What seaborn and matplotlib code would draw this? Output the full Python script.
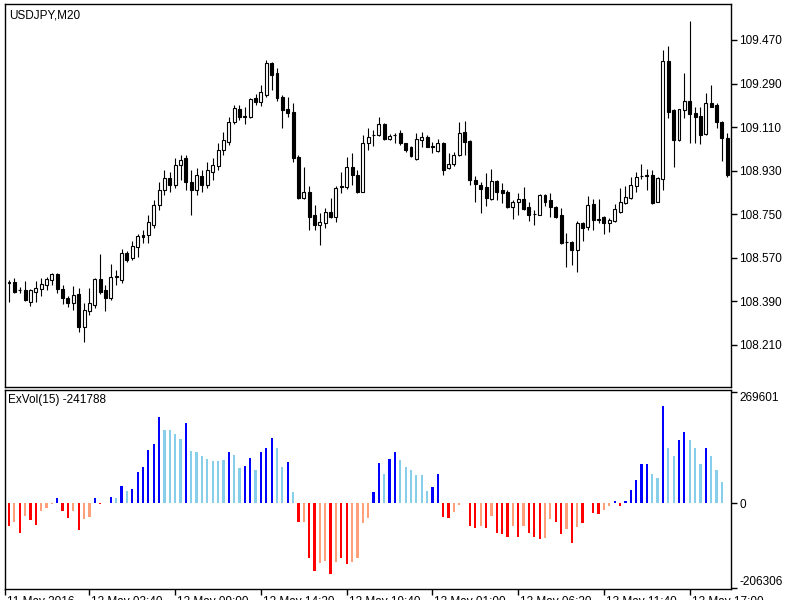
import matplotlib
matplotlib.use("Agg")
import matplotlib.pyplot as plt
import matplotlib.transforms as mtransforms
import numpy as np
import pandas as pd
import seaborn as sns

# chart labels
symbol_label = "USDJPY,M20"
indicator_label = "ExVol(15) -241788"

# USDJPY M20 candles
opens = [108.469, 108.471, 108.438, 108.437, 108.389, 108.430, 108.440, 108.458, 108.478, 108.503,
         108.440, 108.405, 108.385, 108.420, 108.285, 108.351, 108.375, 108.481, 108.437, 108.403,
         108.491, 108.478, 108.591, 108.568, 108.616, 108.665, 108.664, 108.705, 108.788, 108.850,
         108.900, 108.871, 108.953, 108.982, 108.883, 108.850, 108.908, 108.871, 108.924, 108.949,
         109.015, 109.048, 109.132, 109.185, 109.154, 109.150, 109.229, 109.212, 109.243, 109.373,
         109.332, 109.236, 109.185, 109.174, 108.988, 108.816, 108.841, 108.747, 108.705, 108.715,
         108.758, 108.740, 108.865, 108.861, 108.946, 108.912, 108.843, 109.043, 109.076, 109.077,
         109.123, 109.061, 109.078, 109.084, 109.043, 109.026, 108.977, 109.057, 109.068, 109.030,
         109.012, 109.045, 108.940, 108.957, 108.995, 109.091, 109.054, 108.891, 108.871, 108.861,
         108.813, 108.888, 108.850, 108.843, 108.779, 108.802, 108.812, 108.779, 108.752, 108.747,
         108.829, 108.809, 108.779, 108.747, 108.637, 108.636, 108.602, 108.712, 108.696, 108.792,
         108.730, 108.737, 108.715, 108.723, 108.760, 108.798, 108.816, 108.867, 108.907, 108.912,
         108.912, 108.802, 108.894, 109.383, 109.181, 109.057, 109.181, 109.219, 109.167, 109.156,
         109.081, 109.208, 109.201, 109.132, 109.064]
highs = [108.478, 108.485, 108.451, 108.475, 108.440, 108.475, 108.485, 108.492, 108.506, 108.506,
         108.458, 108.412, 108.453, 108.444, 108.382, 108.444, 108.485, 108.586, 108.458, 108.544,
         108.520, 108.605, 108.599, 108.641, 108.668, 108.685, 108.747, 108.809, 108.883, 108.933,
         108.924, 108.982, 108.995, 108.995, 108.933, 108.941, 108.933, 108.966, 108.982, 109.044,
         109.090, 109.152, 109.201, 109.201, 109.194, 109.230, 109.247, 109.284, 109.387, 109.380,
         109.353, 109.243, 109.236, 109.208, 108.995, 108.946, 108.868, 108.788, 108.754, 108.774,
         108.816, 108.868, 108.923, 108.988, 109.002, 108.933, 109.077, 109.105, 109.098, 109.150,
         109.127, 109.081, 109.084, 109.098, 109.045, 109.032, 109.087, 109.091, 109.077, 109.050,
         109.060, 109.048, 109.002, 109.008, 109.132, 109.135, 109.057, 108.908, 108.884, 108.922,
         108.936, 108.891, 108.878, 108.850, 108.809, 108.836, 108.861, 108.802, 108.767, 108.833,
         108.833, 108.836, 108.782, 108.774, 108.671, 108.641, 108.723, 108.719, 108.825, 108.812,
         108.812, 108.743, 108.733, 108.792, 108.857, 108.867, 108.903, 108.926, 108.957, 108.936,
         108.933, 108.905, 109.428, 109.445, 109.185, 109.185, 109.335, 109.550, 109.193, 109.193,
         109.252, 109.284, 109.211, 109.135, 109.084]
lows = [108.389, 108.423, 108.423, 108.393, 108.371, 108.389, 108.412, 108.437, 108.458, 108.423,
        108.379, 108.365, 108.354, 108.265, 108.223, 108.334, 108.361, 108.420, 108.351, 108.396,
        108.458, 108.465, 108.554, 108.561, 108.575, 108.632, 108.630, 108.693, 108.767, 108.829,
        108.842, 108.858, 108.891, 108.850, 108.747, 108.829, 108.842, 108.858, 108.891, 108.933,
        108.995, 109.036, 109.123, 109.139, 109.123, 109.146, 109.201, 109.197, 109.235, 109.263,
        109.219, 109.105, 109.153, 108.967, 108.812, 108.814, 108.685, 108.685, 108.623, 108.692,
        108.733, 108.719, 108.836, 108.853, 108.871, 108.836, 108.840, 109.015, 109.032, 109.073,
        109.057, 109.057, 109.043, 109.036, 109.008, 108.985, 108.974, 109.029, 109.026, 109.004,
        109.008, 108.912, 108.936, 108.949, 108.991, 108.995, 108.871, 108.802, 108.754, 108.784,
        108.809, 108.809, 108.795, 108.774, 108.729, 108.747, 108.767, 108.723, 108.705, 108.745,
        108.784, 108.740, 108.736, 108.627, 108.533, 108.540, 108.513, 108.641, 108.685, 108.685,
        108.715, 108.668, 108.678, 108.719, 108.757, 108.792, 108.812, 108.843, 108.894, 108.850,
        108.792, 108.800, 108.850, 109.148, 108.946, 109.054, 109.148, 109.045, 109.044, 109.040,
        109.079, 109.193, 109.105, 108.971, 108.905]
closes = [108.466, 108.430, 108.436, 108.396, 108.437, 108.444, 108.462, 108.481, 108.503, 108.440,
          108.403, 108.385, 108.416, 108.283, 108.354, 108.382, 108.481, 108.430, 108.403, 108.489,
          108.493, 108.591, 108.561, 108.619, 108.660, 108.655, 108.718, 108.788, 108.850, 108.900,
          108.871, 108.953, 108.974, 108.883, 108.850, 108.912, 108.871, 108.933, 108.953, 109.015,
          109.057, 109.131, 109.188, 109.153, 109.152, 109.226, 109.215, 109.256, 109.373, 109.325,
          109.229, 109.181, 109.169, 108.981, 108.816, 108.841, 108.740, 108.705, 108.719, 108.758,
          108.737, 108.857, 108.863, 108.946, 108.912, 108.843, 109.043, 109.068, 109.078, 109.121,
          109.060, 109.073, 109.076, 109.043, 109.015, 108.991, 109.060, 109.068, 109.029, 109.028,
          109.045, 108.933, 108.957, 108.995, 109.087, 109.050, 108.891, 108.874, 108.853, 108.816,
          108.888, 108.843, 108.839, 108.779, 108.802, 108.812, 108.770, 108.747, 108.750, 108.829,
          108.802, 108.781, 108.740, 108.632, 108.635, 108.602, 108.715, 108.694, 108.788, 108.726,
          108.728, 108.712, 108.726, 108.770, 108.802, 108.820, 108.871, 108.903, 108.909, 108.906,
          108.798, 108.898, 109.383, 109.174, 109.057, 109.183, 109.219, 109.164, 109.153, 109.077,
          109.211, 109.194, 109.132, 109.064, 108.912]

# ExVol histogram and its colour state per bar
exvol = [-56000, -44600, -72200, -30000, -39800, -52800, -19500, -11400, -2400, 13000,
         -19500, -35700, -19500, -65000, -38000, -34000, 13000, -2400, 1000, 16200,
         13000, 42200, 28400, 34900, 75500, 87700, 129900, 142900, 207800, 178600,
         178600, 168800, 155800, 195600, 126600, 123400, 113600, 107100, 101500, 101500,
         103900, 123400, 116900, 84400, 90900, 110400, 81200, 123400, 133100, 159100,
         133100, 87700, 100600, 26000, -46300, -46300, -133900, -164000, -146100, -139600,
         -170500, -143700, -133900, -147700, -143700, -133900, -48700, -36500, 26000, 97400,
         71400, 107100, 123400, 103900, 87700, 81200, 67400, 67400, 29200, 39000,
         71400, -32500, -35700, -21900, -3200, 1600, -56000, -60900, -56000, -60900,
         -30000, -72200, -74700, -81200, -54400, -81200, -54400, -72200, -81200, -87700,
         -84400, -38100, -46300, -74700, -62500, -97400, -58400, -48700, 1600, -22700,
         -26000, -15400, -5700, 6500, -6500, 6500, 32500, 55200, 94200, 94200,
         71400, 61700, 235400, 133100, 113600, 152600, 172100, 152600, 133100, 94200,
         133100, 113600, 81200, 51900, 1000]
exvol_state = (["down", "down_weak", "down", "down_weak", "down", "down", "down_weak", "down_weak", "down_weak", "up",
                "down", "down", "down_weak", "down", "down_weak", "down_weak", "up", "down", "up_weak", "up",
                "up_weak", "up", "up_weak", "up", "up", "up", "up", "up", "up", "up_weak",
                "up_weak", "up_weak", "up_weak", "up", "up_weak", "up_weak", "up_weak", "up_weak", "up_weak", "up_weak",
                "up_weak", "up", "up_weak", "up_weak", "up", "up", "up_weak", "up", "up", "up",
                "up_weak", "up_weak", "up", "up_weak", "down", "down_weak", "down", "down", "down_weak", "down_weak",
                "down", "down_weak", "down", "down", "down_weak", "down_weak", "down_weak", "down_weak", "up", "up",
                "up_weak", "up", "up", "up_weak", "up_weak", "up_weak", "up_weak", "up_weak", "up_weak", "up",
                "up", "down", "down", "down_weak", "down_weak", "up", "down", "down", "down_weak", "down",
                "down_weak", "down", "down", "down", "down_weak", "down", "down_weak", "down", "down", "down",
                "down_weak", "down_weak", "down", "down", "down_weak", "down", "down_weak", "down", "up", "down",
                "down", "down_weak", "down_weak", "up", "down", "up", "up", "up", "up", "up",
                "up_weak", "up_weak", "up", "up_weak", "up_weak", "up", "up", "up_weak", "up_weak", "up_weak",
                "up", "up_weak", "up_weak", "up_weak", "up_weak"])

price_ticks = [108.210, 108.390, 108.570, 108.750, 108.930, 109.110, 109.290, 109.470]
exvol_ticks = [-206306, 0, 269601]
time_tick_bars = [15, 31, 47, 63, 79, 95, 111, 127]
time_tick_labels = ["12 May 03:40", "12 May 09:00", "12 May 14:20", "12 May 19:40",
                    "13 May 01:00", "13 May 06:20", "13 May 11:40", "13 May 17:00"]
first_time_label = "11 May 2016"

palette = {"up": "#0000ff", "up_weak": "#87ceeb", "down": "#ff0000", "down_weak": "#ffa07a"}

sns.set_theme(style="white", rc={"axes.edgecolor": "black", "axes.linewidth": 1.0})
plt.rcParams["font.family"] = ["Liberation Sans", "DejaVu Sans"]

n = len(opens)
bars = np.arange(n)
o = np.array(opens)
c = np.array(closes)

fig = plt.figure(figsize=(8, 6), dpi=100)
ax1 = fig.add_axes([5 / 800, 1 - 387 / 600, 726 / 800, 383 / 600])
ax2 = fig.add_axes([5 / 800, 1 - 589 / 600, 726 / 800, 199 / 600])

# candles
ax1.vlines(bars, lows, highs, color="black", linewidth=0.8, zorder=2)
body_low = np.minimum(o, c)
body_h = np.maximum(np.abs(c - o), 0.0008)
fills = np.where(c >= o, "white", "black")
ax1.bar(bars, body_h, bottom=body_low, width=0.55, color=fills,
        edgecolor="black", linewidth=0.8, zorder=3)

xmin, xmax = -0.746, 134.7
ax1.set_xlim(xmin, xmax)
ax1.set_ylim(108.036, 109.6185)
ax1.set_xticks([])
ax1.yaxis.tick_right()
ax1.set_yticks(price_ticks)
ax1.set_yticklabels([f"{v:.3f}" for v in price_ticks])
ax1.tick_params(axis="y", direction="out", length=4, width=1, pad=2,
                labelsize=8.5, colors="black", right=True, left=False)
ax1.text(4 / 726, 1 - 5 / 383, symbol_label, transform=ax1.transAxes,
         ha="left", va="top", fontsize=8.5, color="black")

# ExVol histogram
df = pd.DataFrame({"bar": bars, "exvol": exvol, "state": exvol_state})
sns.barplot(data=df, x="bar", y="exvol", hue="state", palette=palette,
            dodge=False, width=0.42, saturation=1, errorbar=None,
            linewidth=0, legend=False, native_scale=True, ax=ax2)

ax2.set_xlim(xmin, xmax)
ax2.set_ylim(-208010, 274470)
ax2.set_xlabel("")
ax2.set_ylabel("")
ax2.yaxis.tick_right()
ax2.set_yticks(exvol_ticks)
ax2.set_yticklabels([str(v) for v in exvol_ticks])
ax2.tick_params(axis="y", direction="out", length=4, width=1, pad=2,
                labelsize=8.5, colors="black", right=True, left=False)
ylabels = ax2.get_yticklabels()
ylabels[0].set_va("bottom")
ylabels[-1].set_va("top")

ax2.set_xticks([xmin] + time_tick_bars)
ax2.set_xticklabels([first_time_label] + time_tick_labels)
ax2.tick_params(axis="x", direction="out", length=4, width=1, pad=1,
                labelsize=8.5, colors="black", bottom=True)
shift = mtransforms.ScaledTranslation(2 / 100, 0, fig.dpi_scale_trans)
for lab in ax2.get_xticklabels():
    lab.set_ha("left")
    lab.set_transform(lab.get_transform() + shift)

ax2.text(3 / 726, 1 - 4 / 199, indicator_label, transform=ax2.transAxes,
         ha="left", va="top", fontsize=8.5, color="black")

for ax in (ax1, ax2):
    for sp in ax.spines.values():
        sp.set_color("black")
        sp.set_linewidth(1.0)

fig.savefig("out.png", dpi=100)
